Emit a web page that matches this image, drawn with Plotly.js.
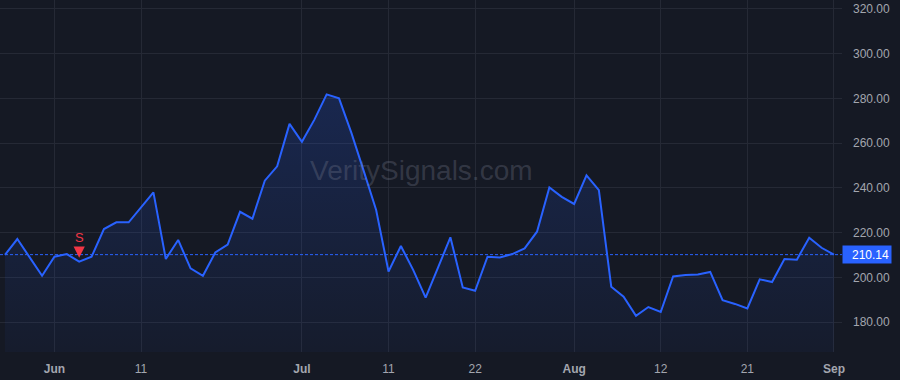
<!DOCTYPE html>
<html>
<head>
<meta charset="utf-8">
<script src="https://cdn.plot.ly/plotly-3.0.1.min.js"></script>
<style>
  html, body { margin: 0; padding: 0; background: #151924; }
  #chart { width: 900px; height: 380px; }
</style>
</head>
<body>
<div id="chart"></div>
<script>
// Closing prices, one per trading session
const prices = [
  210.0, 217.1, 208.9, 200.7, 209.2, 210.4, 207.0, 209.2, 221.6, 224.6,
  224.6, 231.3, 238.0, 208.2, 216.7, 204.0, 200.7, 211.1, 214.6, 229.3,
  226.2, 243.2, 249.6, 268.6, 260.6, 270.4, 281.8, 280.0, 264.6, 247.5,
  230.1, 202.6, 214.0, 203.2, 190.9, 204.3, 217.9, 195.5, 194.0, 209.2,
  208.9, 210.4, 212.9, 220.4, 240.2, 236.0, 232.8, 245.6, 239.0, 195.8,
  191.3, 182.8, 186.7, 184.5, 200.4, 201.0, 201.3, 202.4, 189.8, 188.1,
  186.1, 199.1, 197.9, 208.2, 207.9, 217.7, 213.2, 210.14
];
// Session index of each x tick and its label
const xTickIndex = [4, 11, 24, 31, 38, 46, 53, 60, 67];
const xTickText = ['<b>Jun</b>', '11', '<b>Jul</b>', '11', '22', '<b>Aug</b>', '12', '21', '<b>Sep</b>'];
// Price axis ticks
const yTickVals = [180, 200, 220, 240, 260, 280, 300, 320];
const yTickText = ['180.00', '200.00', '220.00', '240.00', '260.00', '280.00', '300.00', '320.00'];
// Signals
const signalIndex = [6];
const signalText = ['S'];
const lastPrice = 210.14;
const watermark = 'VeritySignals.com';

const xs = prices.map((_, i) => i);
const font = 'Liberation Sans, Arial, sans-serif';
const blue = '#2962FF';
const red = '#F23645';

const trace = {
  x: xs, y: prices, type: 'scatter', mode: 'lines',
  line: { color: blue, width: 2 },
  fill: 'tozeroy',
  fillgradient: {
    type: 'vertical',
    start: 166.6, stop: 285,
    colorscale: [[0, 'rgba(41,98,255,0.04)'], [1, 'rgba(41,98,255,0.20)']]
  },
  hoverinfo: 'skip'
};

const annotations = [
  {
    xref: 'paper', yref: 'paper', x: 0.5, y: 0.515,
    text: watermark, showarrow: false,
    font: { family: font, size: 28, color: 'rgba(125,130,148,0.30)' }
  },
  {
    xref: 'paper', yref: 'y', x: 1, y: lastPrice, xanchor: 'left', yanchor: 'middle',
    text: lastPrice.toFixed(2), showarrow: false, bgcolor: blue,
    width: 44, height: 13, borderpad: 2, align: 'right',
    font: { family: font, size: 12, color: '#ffffff' }
  }
];
signalIndex.forEach((idx, k) => {
  annotations.push({
    x: idx, y: prices[idx], xref: 'x', yref: 'y',
    text: '', showarrow: true, arrowhead: 2, arrowsize: 0.75, arrowwidth: 3,
    arrowcolor: red, ax: 0, ay: -15, standoff: 4
  });
  annotations.push({
    x: idx, y: prices[idx], xref: 'x', yref: 'y',
    text: signalText[k], showarrow: false, yshift: 24,
    font: { family: font, size: 13, color: red }
  });
});

const layout = {
  width: 900, height: 380,
  margin: { l: 0, r: 58, t: 0, b: 28 },
  paper_bgcolor: '#151924', plot_bgcolor: '#151924',
  showlegend: false,
  xaxis: {
    range: [-0.4, 67.65], tickvals: xTickIndex, ticktext: xTickText,
    showgrid: true, gridcolor: '#252935', gridwidth: 1,
    zeroline: false, showline: false, ticks: '',
    ticklabelstandoff: 8,
    tickfont: { family: font, size: 12, color: '#a3a6af' }
  },
  yaxis: {
    side: 'right', range: [166.6, 324.0],
    tickvals: yTickVals, ticktext: yTickText,
    showgrid: true, gridcolor: '#252935', gridwidth: 1,
    zeroline: false, showline: false, ticks: '',
    ticklabelstandoff: 10,
    tickfont: { family: font, size: 12, color: '#a3a6af' }
  },
  shapes: [{
    type: 'line', xref: 'paper', yref: 'y', x0: 0, x1: 1, y0: lastPrice, y1: lastPrice,
    line: { color: blue, width: 1, dash: '3px,2px' }
  }],
  annotations: annotations
};

Plotly.newPlot('chart', [trace], layout, { staticPlot: true, displayModeBar: false });
</script>
</body>
</html>
